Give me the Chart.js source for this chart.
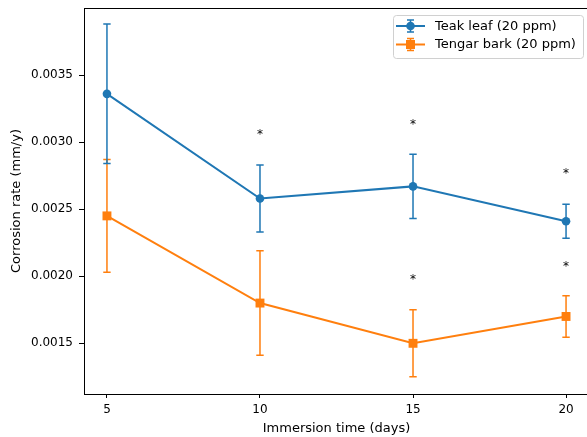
<!DOCTYPE html>
<html>
<head>
<meta charset="utf-8">
<script src="https://cdn.jsdelivr.net/npm/chart.js@4.4.1/dist/chart.umd.min.js"></script>
<style>
html,body{margin:0;padding:0;background:#fff;}
#wrap{width:587px;height:437px;overflow:hidden;position:relative;}
canvas{display:block;}
</style>
</head>
<body>
<div id="wrap"><canvas id="c" width="592" height="437"></canvas></div>
<script>
// ---- data ----
const days = [5, 10, 15, 20];
const seriesLabels = ['Teak leaf (20 ppm)', 'Tengar bark (20 ppm)'];
const teakMean = [0.00336, 0.00258, 0.00267, 0.00241];
const teakErr = [0.00052, 0.00025, 0.00024, 0.000126];
const tengarMean = [0.00245, 0.00180, 0.00150, 0.00170];
const tengarErr = [0.00042, 0.00039, 0.00025, 0.000155];
// significance markers (y value where the * sits), null = none
const teakStar = [null, 0.00308, 0.00316, 0.00279];
const tengarStar = [null, null, 0.00200, 0.00210];
const xTicks = [5, 10, 15, 20];
const yTicks = [0.0015, 0.0020, 0.0025, 0.0030, 0.0035];

const colors = ['#1f77b4', '#ff7f0e'];
const pointStyles = ['circle', 'rect'];
const pointRadii = [4.3, 6.3];
const errs = [teakErr, tengarErr];
const stars = [teakStar, tengarStar];
const FONT = '"DejaVu Sans", sans-serif';

const errorBarPlugin = {
  id: 'errorbars',
  beforeDatasetDraw(chart, args) {
    const i = args.index;
    const ds = chart.data.datasets[i];
    const xs = chart.scales.x, ys = chart.scales.y;
    const ctx = chart.ctx;
    ctx.save();
    ctx.strokeStyle = colors[i];
    ctx.lineWidth = 1.5;
    ds.data.forEach((p, j) => {
      const e = errs[i][j];
      const px = xs.getPixelForValue(p.x);
      const top = ys.getPixelForValue(p.y + e);
      const bot = ys.getPixelForValue(p.y - e);
      ctx.beginPath();
      ctx.moveTo(px, top); ctx.lineTo(px, bot);
      ctx.moveTo(px - 3.7, top); ctx.lineTo(px + 3.7, top);
      ctx.moveTo(px - 3.7, bot); ctx.lineTo(px + 3.7, bot);
      ctx.stroke();
    });
    ctx.restore();
  }
};

const framePlugin = {
  id: 'frame',
  afterDatasetsDraw(chart) {
    const a = chart.chartArea, ctx = chart.ctx;
    ctx.save();
    ctx.strokeStyle = '#000';
    ctx.lineWidth = 1;
    ctx.beginPath();
    ctx.moveTo(a.left, a.top + 0.5); ctx.lineTo(a.right, a.top + 0.5);
    ctx.moveTo(a.right - 0.5, a.top); ctx.lineTo(a.right - 0.5, a.bottom);
    ctx.stroke();
    // significance stars
    ctx.fillStyle = '#000';
    ctx.font = '12px ' + FONT;
    ctx.textAlign = 'center';
    ctx.textBaseline = 'alphabetic';
    stars.forEach(arr => arr.forEach((v, j) => {
      if (v === null) return;
      const px = chart.scales.x.getPixelForValue(days[j]);
      const py = chart.scales.y.getPixelForValue(v);
      ctx.fillText('*', px, py + 7);
    }));
    ctx.restore();
  }
};

const legendPlugin = {
  id: 'customLegend',
  afterDraw(chart) {
    const ctx = chart.ctx;
    ctx.save();
    const x0 = 393, y0 = 15, w = 190, h = 43, r = 3;
    ctx.beginPath();
    ctx.roundRect(x0 + 0.5, y0 + 0.5, w, h, r);
    ctx.fillStyle = 'rgba(255,255,255,0.8)';
    ctx.fill();
    ctx.strokeStyle = '#d0d0d0';
    ctx.lineWidth = 1;
    ctx.stroke();
    const rows = [26, 44.5];
    rows.forEach((ry, i) => {
      ctx.strokeStyle = colors[i];
      ctx.fillStyle = colors[i];
      ctx.lineWidth = 2;
      ctx.beginPath(); ctx.moveTo(396, ry); ctx.lineTo(425, ry); ctx.stroke();
      ctx.lineWidth = 1.5;
      ctx.beginPath();
      ctx.moveTo(410.5, ry - 6); ctx.lineTo(410.5, ry + 6);
      ctx.moveTo(407, ry - 6); ctx.lineTo(414, ry - 6);
      ctx.moveTo(407, ry + 6); ctx.lineTo(414, ry + 6);
      ctx.stroke();
      if (pointStyles[i] === 'circle') {
        ctx.beginPath(); ctx.arc(410.5, ry, 4.3, 0, Math.PI * 2); ctx.fill();
      } else {
        ctx.fillRect(406, ry - 4.5, 9, 9);
      }
      ctx.fillStyle = '#000';
      ctx.font = '13px ' + FONT;
      ctx.textAlign = 'left';
      ctx.textBaseline = 'middle';
      ctx.fillText(chart.data.datasets[i].label, 435, ry + 0.5);
    });
    ctx.restore();
  }
};

const mk = (i, means) => ({
  label: seriesLabels[i],
  data: days.map((d, j) => ({ x: d, y: means[j] })),
  borderColor: colors[i],
  backgroundColor: colors[i],
  borderWidth: 2,
  pointStyle: pointStyles[i],
  pointRadius: pointRadii[i],
  pointHoverRadius: pointRadii[i],
  pointBorderWidth: 0,
  tension: 0,
  fill: false
});

new Chart(document.getElementById('c'), {
  type: 'line',
  data: { datasets: [mk(0, teakMean), mk(1, tengarMean)] },
  options: {
    responsive: false,
    animation: false,
    devicePixelRatio: 1,
    layout: { autoPadding: false, padding: { top: 8, left: 0, right: 3, bottom: 0 } },
    plugins: { legend: { display: false }, tooltip: { enabled: false } },
    scales: {
      x: {
        type: 'linear',
        min: 4.25, max: 20.75,
        afterBuildTicks: s => { s.ticks = xTicks.map(v => ({ value: v })); },
        afterFit: s => { s.height = 43; s.paddingLeft = 0; s.paddingRight = 0; },
        ticks: { color: '#000', font: { family: FONT, size: 12 }, padding: 5, maxRotation: 0, callback: v => String(v) },
        grid: { display: true, drawOnChartArea: false, drawTicks: true, tickLength: 4, color: '#000', lineWidth: 1 },
        border: { display: true, color: '#000', width: 1 },
        title: { display: true, text: 'Immersion time (days)', color: '#000', font: { family: FONT, size: 13 }, padding: { top: 0, bottom: 1 } }
      },
      y: {
        type: 'linear',
        min: 0.001122, max: 0.0040,
        afterBuildTicks: s => { s.ticks = yTicks.map(v => ({ value: v })); },
        afterFit: s => { s.width = 84; s.paddingTop = 0; s.paddingBottom = 0; },
        ticks: { color: '#000', font: { family: FONT, size: 12 }, padding: 6, callback: v => v.toFixed(4) },
        grid: { display: true, drawOnChartArea: false, drawTicks: true, tickLength: 5, color: '#000', lineWidth: 1 },
        border: { display: true, color: '#000', width: 1 },
        title: { display: true, text: 'Corrosion rate (mm/y)', color: '#000', font: { family: FONT, size: 13 }, padding: { top: 9, bottom: 0 } }
      }
    }
  },
  plugins: [errorBarPlugin, framePlugin, legendPlugin]
});
</script>
</body>
</html>
